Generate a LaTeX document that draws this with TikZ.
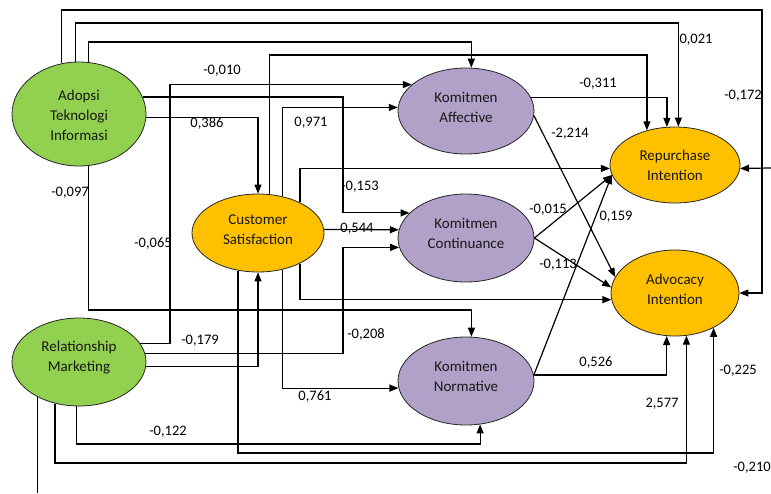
\documentclass[tikz,border=0pt]{standalone}
\usepackage{fontspec}
\setmainfont{Carlito}
\usetikzlibrary{shapes.geometric,arrows.meta,calc}
\definecolor{lvgreen}{HTML}{92D050}
\definecolor{lvyellow}{HTML}{FFC000}
\definecolor{lvpurple}{HTML}{B1A0C7}
\begin{document}
\begin{tikzpicture}[x=1pt,y=-1pt,
  lv/.style={ellipse,draw=black!85,line width=0.8pt,inner sep=0pt},
  lvtxt/.style={inner sep=0pt,align=center,font=\fontsize{15}{20}\selectfont,text=black!90},
  lab/.style={inner sep=0pt,font=\fontsize{14.5}{17}\selectfont},
  con/.style={draw=black,line width=1.2pt},
  arr/.style={con,-{Triangle[length=9pt,width=7pt]}}]
\fill[white] (0,0) rectangle (771,493);
\useasboundingbox (0,0) rectangle (771,493);
% latent variables
\node[lv,fill=lvgreen,minimum width=134pt,minimum height=104pt,
  label={[lvtxt,yshift=-1pt]center:Adopsi\\Teknologi\\Informasi}] (ATI) at (79,114) {};
\node[lv,fill=lvgreen,minimum width=134pt,minimum height=88pt,
  label={[lvtxt,yshift=4pt]center:Relationship\\Marketing}] (RM) at (79,362) {};
\node[lv,fill=lvyellow,minimum width=132pt,minimum height=78pt,
  label={[lvtxt,yshift=3pt]center:Customer\\Satisfaction}] (CS) at (258,233) {};
\node[lv,fill=lvpurple,minimum width=136pt,minimum height=86pt,
  label={[lvtxt,yshift=4pt]center:Komitmen\\Affective}] (KA) at (466,111) {};
\node[lv,fill=lvpurple,minimum width=136pt,minimum height=88pt,
  label={[lvtxt,yshift=5pt]center:Komitmen\\Continuance}] (KC) at (466,238) {};
\node[lv,fill=lvpurple,minimum width=136pt,minimum height=88pt,
  label={[lvtxt,yshift=5pt]center:Komitmen\\Normative}] (KN) at (466,381) {};
\node[lv,fill=lvyellow,minimum width=130pt,minimum height=76pt,
  label={[lvtxt]center:Repurchase\\Intention}] (RI) at (675,165) {};
\node[lv,fill=lvyellow,minimum width=128pt,minimum height=86pt,
  label={[lvtxt,yshift=4pt]center:Advocacy\\Intention}] (AI) at (675,293) {};
\coordinate (rmfree) at (0,493);
\coordinate (rifree) at (771,168);
% connectors from Adopsi Teknologi Informasi
\draw[arr] (ATI.109) -- (ATI.109 |- 0,10) -- (762,10) |- (AI.east);
\draw[arr] (ATI.94) -- (ATI.94 |- 0,23) -| (RI.85);
\draw[arr] (ATI.80) -- (ATI.80 |- 0,42) -| (KA.83);
\draw[arr] (ATI.15) -- (343,0 |- ATI.15) |- (KC.156);
\draw[arr] (ATI.-3) -| (CS);
\draw[arr] (ATI.-80) -- (ATI.-80 |- 0,310) -| (KN.83);
% connectors from Relationship Marketing
\draw[arr] (RM.17) -- (170,0 |- RM.17) |- (KA.154);
\draw[arr] (RM.7) -- (343,0 |- RM.7) |- (KC.188);
\draw[arr] (RM.-4) -| (CS);
\draw[arr] (RM.267) -- (RM.267 |- 0,444) -| (KN.-72);
\draw[arr] (RM.240) -- (RM.240 |- 0,463) -| (AI.-75);
\draw[con] (RM.220) -- (RM.220 |- rmfree);
\draw[arr] (rifree) -- (RI.-3);
% connectors from Customer Satisfaction
\draw[arr] (CS.73) -- (CS.73 |- 0,55) -| (RI.129);
\draw[arr] (CS.3) -- (KC.173);
\draw[arr] (CS.56) |- (KA.177);
\draw[arr] (CS.-56) |- (KN.186);
\draw[arr] (CS.-36) |- (AI.186);
\draw[arr] (CS.36) |- (RI.183);
\draw[arr] (CS.242) -- (CS.242 |- 0,453) -| (AI.-42);
% connectors from the commitments
\draw[arr] (KA.12) -| (RI.102);
\draw[arr] (KA.-4) -- (AI.165);
\draw[arr] (KC.east) -- (RI.189);
\draw[arr] (KC.east) -- (AI.175);
\draw[arr] (KN.5) -- (RI.189);
\draw[arr] (KN.5) -| (AI.259);
% path coefficients
\node[lab] (l01) at (222,71) {-0,010};
\node[lab] (l02) at (207,123) {0,386};
\node[lab] (l03) at (70,193) {-0,097};
\node[lab] (l04) at (153,244) {-0,065};
\node[lab] (l05) at (311,123) {0,971};
\node[lab] (l06) at (360,187) {-0,153};
\node[lab] (l07) at (357,229) {0,544};
\node[lab] (l08) at (200,341) {-0,179};
\node[lab] (l09) at (366,334) {-0,208};
\node[lab] (l10) at (315,397) {0,761};
\node[lab] (l11) at (168,432) {-0,122};
\node[lab] (l12) at (696,40) {0,021};
\node[lab] (l13) at (598,84) {-0,311};
\node[lab] (l14) at (743,96) {-0,172};
\node[lab] (l15) at (570,134) {-2,214};
\node[lab] (l16) at (548,210) {-0,015};
\node[lab] (l17) at (616,217) {0,159};
\node[lab] (l18) at (558,265) {-0,113};
\node[lab] (l19) at (596,363) {0,526};
\node[lab] (l20) at (662,404) {2,577};
\node[lab] (l21) at (738,371) {-0,225};
\node[lab] (l22) at (752,468) {-0,210};
\end{tikzpicture}
\end{document}
